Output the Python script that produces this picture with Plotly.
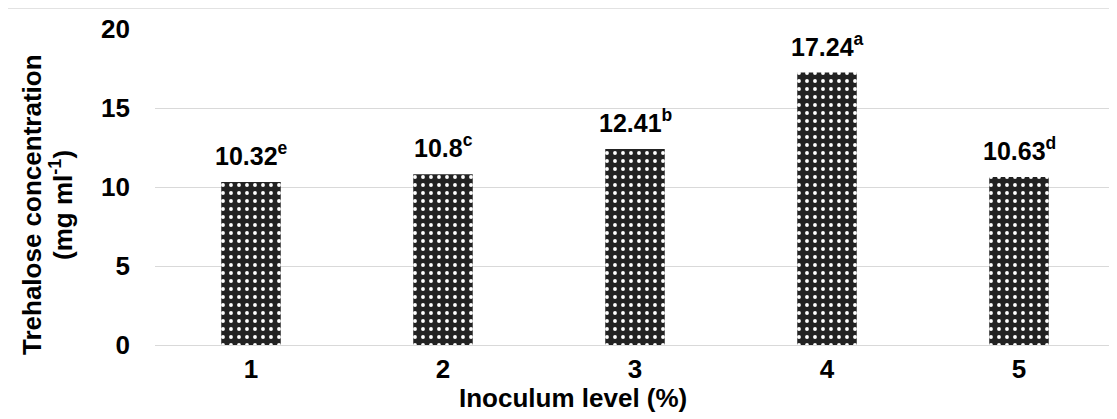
import plotly.graph_objects as go

categories = ["1", "2", "3", "4", "5"]
values = [10.32, 10.8, 12.41, 17.24, 10.63]
letters = ["e", "c", "b", "a", "d"]
y_ticks = [0, 5, 10, 15, 20]

FONT = "Liberation Sans, Arial, sans-serif"
FS = 26

fig = go.Figure()
fig.add_trace(go.Bar(
    x=categories, y=values, width=0.31,
    marker=dict(color="#222222", line=dict(width=0),
                pattern=dict(shape=".", bgcolor="#222222", fgcolor="white",
                             size=8, solidity=0.18, fillmode="replace")),
    hoverinfo="skip",
))

for i, (v, l) in enumerate(zip(values, letters)):
    fig.add_annotation(x=i, y=v, text=f"<b>{v:g}<sup>{l}</sup></b>", showarrow=False,
                       yanchor="bottom", yshift=10,
                       font=dict(family=FONT, size=25, color="black"))

fig.add_annotation(xref="paper", yref="paper", x=(573 - 155) / 960, y=(345 - 398) / 316,
                   text="<b>Inoculum level (%)</b>", showarrow=False,
                   xanchor="center", yanchor="middle",
                   font=dict(family=FONT, size=FS, color="black"))
fig.add_annotation(xref="paper", yref="paper", x=(32 - 155) / 960, y=(345 - 205) / 316,
                   text="<b>Trehalose concentration</b>", showarrow=False,
                   textangle=-90, xanchor="center", yanchor="middle",
                   font=dict(family=FONT, size=FS, color="black"))
fig.add_annotation(xref="paper", yref="paper", x=(61 - 155) / 960, y=(345 - 205) / 316,
                   text="<b>(mg ml<sup>-1</sup>)</b>", showarrow=False,
                   textangle=-90, xanchor="center", yanchor="middle",
                   font=dict(family=FONT, size=FS, color="black"))

fig.add_shape(type="rect", xref="paper", yref="paper",
              x0=(7 - 155) / 960, x1=1.02, y0=-0.26, y1=(345 - 8) / 316,
              line=dict(color="#d9d9d9", width=1.5), layer="below")

fig.update_layout(
    width=1109, height=411,
    margin=dict(l=147, r=2, t=21, b=74),
    paper_bgcolor="white", plot_bgcolor="white",
    showlegend=False,
    font=dict(family=FONT, color="black"),
    xaxis=dict(type="category", showgrid=False, showline=False, ticks="",
               tickvals=categories, ticktext=[f"<b>{c}</b>" for c in categories],
               tickfont=dict(family=FONT, size=FS, color="black"),
               ticklabelstandoff=6, zeroline=False, automargin=False),
    yaxis=dict(range=[0, 20], tickvals=y_ticks, ticktext=[f"<b>{t}</b>" for t in y_ticks],
               showgrid=True, gridcolor="#d9d9d9", gridwidth=1.3,
               zeroline=True, zerolinecolor="#d9d9d9", zerolinewidth=1.3,
               showline=False, ticks="",
               tickfont=dict(family=FONT, size=FS, color="black"),
               ticklabelstandoff=24, automargin=False),
)

fig.write_html("out.html")
